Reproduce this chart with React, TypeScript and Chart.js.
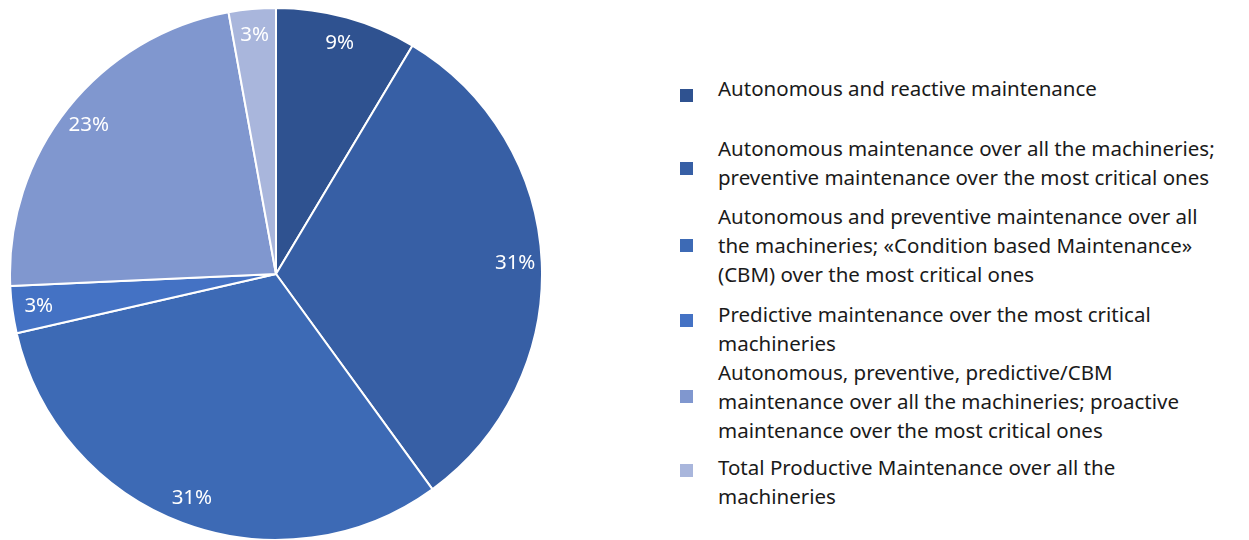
import React, { useEffect, useRef } from "react";
import { Chart, registerables } from "chart.js";

Chart.register(...registerables);

const categories: string[][] = [
  ["Autonomous and reactive maintenance"],
  ["Autonomous maintenance over all the machineries;", "preventive maintenance over the most critical ones"],
  ["Autonomous and preventive maintenance over all", "the machineries; «Condition based Maintenance»", "(CBM) over the most critical ones"],
  ["Predictive maintenance over the most critical", "machineries"],
  ["Autonomous, preventive, predictive/CBM", "maintenance over all the machineries; proactive", "maintenance over the most critical ones"],
  ["Total Productive Maintenance over all the", "machineries"],
];
const counts: number[] = [3, 11, 11, 1, 8, 1];
const colors: string[] = ["#2F5290", "#375FA5", "#3D6AB5", "#4472C4", "#8097CF", "#A9B6DC"];

const FONT = "'Noto Sans', sans-serif";

// legend layout (text-block top, marker centre) in page px
const legendTops = [74, 134, 202, 300, 358, 453];
const markerCenters = [95, 168, 245, 320, 396, 470];
const LINE_H = 29;

const labelPlugin = {
  id: "pctLabels",
  afterDatasetsDraw(chart: any) {
    const ctx = chart.ctx;
    const meta = chart.getDatasetMeta(0);
    const data = chart.data.datasets[0].data as number[];
    const total = data.reduce((a, b) => a + b, 0);
    ctx.save();
    ctx.fillStyle = "#ffffff";
    ctx.font = `20.5px ${FONT}`;
    ctx.textAlign = "center";
    ctx.textBaseline = "middle";
    meta.data.forEach((arc: any, i: number) => {
      const { x, y, startAngle, endAngle, outerRadius } = arc.getProps(
        ["x", "y", "startAngle", "endAngle", "outerRadius"],
        true
      );
      const mid = (startAngle + endAngle) / 2;
      const r = outerRadius * 0.9;
      const pct = Math.round((data[i] / total) * 100) + "%";
      ctx.fillText(pct, x + Math.cos(mid) * r, y + Math.sin(mid) * r);
    });
    ctx.restore();
  },
};

export default function App() {
  const ref = useRef<HTMLCanvasElement | null>(null);
  useEffect(() => {
    if (!ref.current) return;
    const chart = new Chart(ref.current, {
      type: "pie",
      data: {
        labels: categories.map((c) => c.join(" ")),
        datasets: [
          {
            data: counts,
            backgroundColor: colors,
            borderColor: "#ffffff",
            borderWidth: 2,
          },
        ],
      },
      options: {
        animation: false,
        responsive: true,
        maintainAspectRatio: false,
        layout: { padding: 0 },
        plugins: { legend: { display: false }, tooltip: { enabled: false } },
      },
      plugins: [labelPlugin],
    });
    return () => chart.destroy();
  }, []);

  return (
    <div
      style={{
        position: "fixed",
        left: 0,
        top: 0,
        width: 1249,
        height: 540,
        overflow: "hidden",
        background: "#ffffff",
        fontFamily: FONT,
      }}
    >
      <div style={{ position: "absolute", left: 9, top: 7, width: 534, height: 534 }}>
        <canvas ref={ref} />
      </div>
      {categories.map((lines, i) => (
        <React.Fragment key={i}>
          <div
            style={{
              position: "absolute",
              left: 680,
              top: markerCenters[i] - 6.5,
              width: 13,
              height: 13,
              background: colors[i],
            }}
          />
          <div
            style={{
              position: "absolute",
              left: 718,
              top: legendTops[i],
              fontSize: 20.5,
              lineHeight: LINE_H + "px",
              color: "#1a1a1a",
              whiteSpace: "nowrap",
            }}
          >
            {lines.map((l, j) => (
              <div key={j}>{l}</div>
            ))}
          </div>
        </React.Fragment>
      ))}
    </div>
  );
}
